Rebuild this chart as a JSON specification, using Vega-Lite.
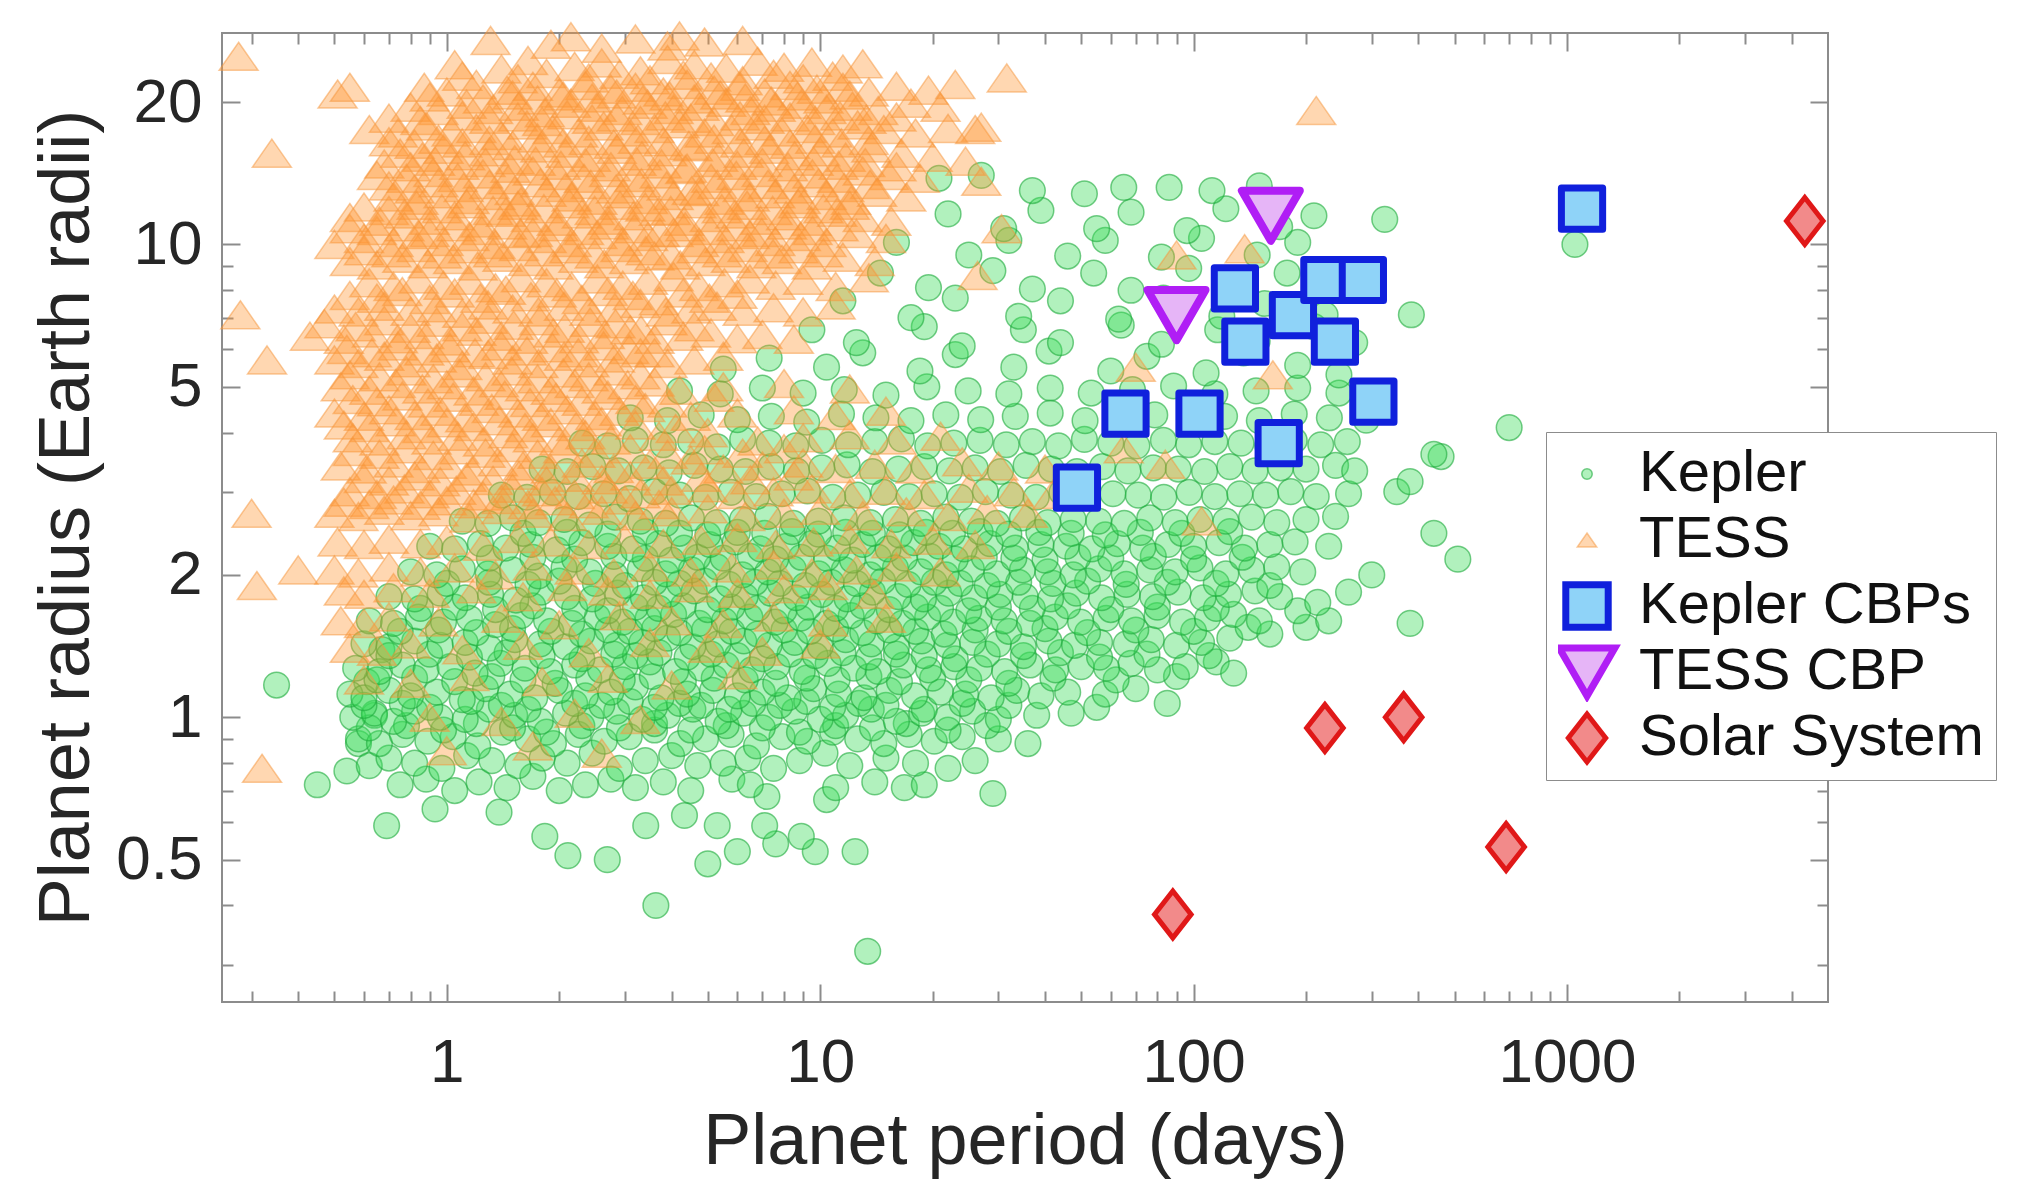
{
"$schema":"https://vega.github.io/schema/vega-lite/v6.json",
"width":1606,"height":969,
"autosize":{"type":"none"},
"padding":{"left":222,"top":33,"right":197,"bottom":196},
"background":"#ffffff",
"config":{
 "font":"Liberation Sans",
 "view":{"stroke":"#8c8c8c","strokeWidth":2},
 "axis":{"grid":false,"domain":false,"labelFont":"Liberation Sans","labelFontSize":62,"labelColor":"#262626","tickColor":"#8c8c8c","tickWidth":2,"titleFont":"Liberation Sans","titleFontSize":72,"titleFontWeight":"normal","titleColor":"#262626","labelOverlap":false,"labelFlush":false},
 "legend":{"labelFont":"Liberation Sans","labelFontSize":58,"labelColor":"#111111","strokeColor":"#8c8c8c","fillColor":"#ffffff","padding":12,"rowPadding":6,"clipHeight":60,"labelOffset":23,"labelLimit":0}
},
"datasets":{
"kepler":[
{"p":0.69,"r":0.59},{"p":0.93,"r":0.64},{"p":1.38,"r":0.63},{"p":1.83,"r":0.56},{"p":2.11,"r":0.51},{"p":2.69,"r":0.5},{"p":3.41,"r":0.59},{"p":4.33,"r":0.62},{"p":5,"r":0.49},{"p":6,"r":0.52},{"p":7.6,"r":0.54},{"p":9.7,"r":0.52},{"p":12.4,"r":0.52},{"p":3.63,"r":0.4},{"p":13.4,"r":0.32},{"p":5.3,"r":0.59},{"p":7.1,"r":0.59},{"p":8.9,"r":0.56},{"p":7.2,"r":0.68},{"p":10.4,"r":0.67},{"p":16.8,"r":0.71},{"p":29,"r":0.69},{"p":0.35,"r":1.17},{"p":0.45,"r":0.72},{"p":0.54,"r":0.77},{"p":0.58,"r":0.88},{"p":0.64,"r":1.01},{"p":0.61,"r":1.19},{"p":0.67,"r":1.39},
{"p":0.75,"r":0.72},{"p":0.88,"r":0.74},{"p":1.05,"r":0.7},{"p":1.22,"r":0.73},{"p":1.45,"r":0.71},{"p":1.7,"r":0.75},{"p":2,"r":0.7},{"p":2.35,"r":0.72},{"p":2.75,"r":0.74},{"p":3.2,"r":0.71},{"p":3.8,"r":0.73},{"p":4.5,"r":0.7},{"p":5.8,"r":0.74},{"p":6.5,"r":0.72},{"p":11,"r":0.71},{"p":14,"r":0.73},{"p":19,"r":0.72},
{"p":0.62,"r":0.79},{"p":0.7,"r":0.82},{"p":0.82,"r":0.8},{"p":0.97,"r":0.78},{"p":1.13,"r":0.83},{"p":1.32,"r":0.81},{"p":1.55,"r":0.79},{"p":1.8,"r":0.82},{"p":2.1,"r":0.8},{"p":2.45,"r":0.84},{"p":2.9,"r":0.78},{"p":3.4,"r":0.81},{"p":4,"r":0.83},{"p":4.7,"r":0.79},{"p":5.5,"r":0.8},{"p":6.4,"r":0.82},{"p":7.5,"r":0.78},{"p":8.8,"r":0.81},{"p":10.3,"r":0.84},{"p":12,"r":0.79},{"p":15,"r":0.82},{"p":18,"r":0.8},{"p":22,"r":0.78},{"p":26,"r":0.81},
{"p":0.58,"r":0.9},{"p":0.66,"r":0.88},{"p":0.76,"r":0.92},{"p":0.89,"r":0.89},{"p":1.04,"r":0.91},{"p":1.21,"r":0.87},{"p":1.41,"r":0.93},{"p":1.65,"r":0.9},{"p":1.93,"r":0.88},{"p":2.25,"r":0.92},{"p":2.64,"r":0.89},{"p":3.08,"r":0.91},{"p":3.6,"r":0.94},{"p":4.22,"r":0.88},{"p":4.93,"r":0.9},{"p":5.77,"r":0.92},{"p":6.75,"r":0.87},{"p":7.9,"r":0.91},{"p":9.24,"r":0.89},{"p":10.8,"r":0.93},{"p":12.6,"r":0.9},{"p":14.8,"r":0.88},{"p":17.3,"r":0.92},{"p":20.2,"r":0.89},{"p":24,"r":0.91},{"p":30,"r":0.9},{"p":36,"r":0.88},
{"p":0.62,"r":0.95},{"p":0.78,"r":0.96},{"p":0.98,"r":0.94},{"p":1.2,"r":0.97},{"p":1.5,"r":0.95},{"p":1.85,"r":0.93},{"p":2.3,"r":0.96},{"p":2.9,"r":0.95},{"p":3.6,"r":0.97},{"p":4.5,"r":0.94},{"p":5.6,"r":0.96},{"p":7,"r":0.95},{"p":8.8,"r":0.93},{"p":11,"r":0.96},{"p":13.8,"r":0.95},{"p":17,"r":0.97},{"p":22,"r":0.94},{"p":28,"r":0.96},
{"p":0.56,"r":1},{"p":0.64,"r":1.02},{"p":0.72,"r":0.98},{"p":0.82,"r":1.03},{"p":0.96,"r":1},{"p":1.12,"r":0.99},{"p":1.3,"r":1.04},{"p":1.52,"r":1.01},{"p":1.78,"r":0.98},{"p":2.08,"r":1.02},{"p":2.43,"r":1},{"p":2.85,"r":1.03},{"p":3.33,"r":0.99},{"p":3.9,"r":1.01},{"p":4.56,"r":1.04},{"p":5.33,"r":0.98},{"p":6.24,"r":1.02},{"p":7.3,"r":1},{"p":8.54,"r":1.03},{"p":10,"r":0.99},{"p":11.7,"r":1.01},{"p":13.7,"r":1.04},{"p":16,"r":0.98},{"p":18.7,"r":1.02},{"p":21.9,"r":1},{"p":25.6,"r":1.03},{"p":30,"r":0.99},{"p":38,"r":1.01},{"p":47,"r":1.02},{"p":85,"r":1.07},
{"p":0.6,"r":1.06},{"p":0.76,"r":1.07},{"p":0.9,"r":1.05},{"p":1.16,"r":1.08},{"p":1.4,"r":1.06},{"p":1.65,"r":1.04},{"p":2.2,"r":1.07},{"p":2.6,"r":1.06},{"p":3.1,"r":1.08},{"p":3.6,"r":1.05},{"p":4.2,"r":1.07},{"p":4.8,"r":1.06},{"p":5.7,"r":1.04},{"p":6.6,"r":1.07},{"p":7.8,"r":1.06},{"p":9.2,"r":1.08},{"p":10.8,"r":1.05},{"p":12.7,"r":1.07},{"p":15,"r":1.06},{"p":19,"r":1.04},{"p":24,"r":1.07},{"p":32,"r":1.06},{"p":55,"r":1.05},
{"p":0.55,"r":1.12},{"p":0.6,"r":1.1},{"p":0.7,"r":1.14},{"p":0.8,"r":1.11},{"p":0.94,"r":1.13},{"p":1.1,"r":1.09},{"p":1.27,"r":1.15},{"p":1.48,"r":1.12},{"p":1.72,"r":1.1},{"p":2,"r":1.14},{"p":2.35,"r":1.11},{"p":2.75,"r":1.13},{"p":3.2,"r":1.16},{"p":3.75,"r":1.1},{"p":4.4,"r":1.12},{"p":5.15,"r":1.14},{"p":6,"r":1.11},{"p":7,"r":1.13},{"p":8.2,"r":1.1},{"p":9.6,"r":1.15},{"p":11.2,"r":1.12},{"p":13.1,"r":1.1},{"p":15.3,"r":1.14},{"p":17.9,"r":1.11},{"p":21,"r":1.13},{"p":24.5,"r":1.12},{"p":28.7,"r":1.1},{"p":33.6,"r":1.14},{"p":39,"r":1.11},{"p":46,"r":1.13},{"p":58,"r":1.12},{"p":70,"r":1.15},
{"p":0.65,"r":1.2},{"p":0.82,"r":1.21},{"p":1.05,"r":1.19},{"p":1.32,"r":1.22},{"p":1.6,"r":1.2},{"p":1.95,"r":1.18},{"p":2.4,"r":1.21},{"p":2.95,"r":1.2},{"p":3.55,"r":1.22},{"p":4.3,"r":1.19},{"p":5.2,"r":1.21},{"p":6.3,"r":1.2},{"p":7.6,"r":1.18},{"p":9.2,"r":1.21},{"p":11.1,"r":1.2},{"p":13.5,"r":1.22},{"p":16.3,"r":1.19},{"p":20,"r":1.21},{"p":25,"r":1.2},{"p":32,"r":1.18},{"p":42,"r":1.21},{"p":62,"r":1.2},{"p":90,"r":1.22},
{"p":0.57,"r":1.27},{"p":0.66,"r":1.25},{"p":0.76,"r":1.29},{"p":0.88,"r":1.26},{"p":1.02,"r":1.28},{"p":1.19,"r":1.24},{"p":1.39,"r":1.3},{"p":1.62,"r":1.27},{"p":1.89,"r":1.25},{"p":2.2,"r":1.29},{"p":2.58,"r":1.26},{"p":3,"r":1.28},{"p":3.5,"r":1.31},{"p":4.1,"r":1.25},{"p":4.8,"r":1.27},{"p":5.6,"r":1.29},{"p":6.55,"r":1.26},{"p":7.65,"r":1.28},{"p":8.95,"r":1.25},{"p":10.5,"r":1.3},{"p":12.3,"r":1.27},{"p":14.3,"r":1.25},{"p":16.7,"r":1.29},{"p":19.5,"r":1.26},{"p":22.8,"r":1.28},{"p":26.7,"r":1.27},{"p":31.2,"r":1.25},{"p":36.5,"r":1.29},{"p":42.7,"r":1.26},{"p":50,"r":1.28},{"p":58.5,"r":1.27},{"p":68,"r":1.3},{"p":80,"r":1.26},{"p":95,"r":1.28},{"p":115,"r":1.31},{"p":128,"r":1.24},
{"p":0.7,"r":1.35},{"p":0.9,"r":1.36},{"p":1.15,"r":1.34},{"p":1.45,"r":1.37},{"p":1.8,"r":1.35},{"p":2.3,"r":1.33},{"p":2.8,"r":1.36},{"p":3.2,"r":1.35},{"p":3.7,"r":1.37},{"p":4.4,"r":1.34},{"p":5.1,"r":1.36},{"p":6,"r":1.35},{"p":7,"r":1.33},{"p":8.3,"r":1.36},{"p":9.7,"r":1.35},{"p":11.5,"r":1.37},{"p":13.5,"r":1.34},{"p":16,"r":1.36},{"p":19,"r":1.35},{"p":23,"r":1.33},{"p":28,"r":1.36},{"p":35,"r":1.35},{"p":44,"r":1.37},{"p":56,"r":1.34},{"p":75,"r":1.36},{"p":110,"r":1.35},
{"p":0.6,"r":1.43},{"p":0.7,"r":1.41},{"p":0.82,"r":1.45},{"p":0.96,"r":1.42},{"p":1.12,"r":1.44},{"p":1.3,"r":1.4},{"p":1.52,"r":1.46},{"p":1.78,"r":1.43},{"p":2.08,"r":1.41},{"p":2.43,"r":1.45},{"p":2.85,"r":1.42},{"p":3.33,"r":1.44},{"p":3.9,"r":1.47},{"p":4.56,"r":1.41},{"p":5.33,"r":1.43},{"p":6.24,"r":1.45},{"p":7.3,"r":1.42},{"p":8.54,"r":1.44},{"p":10,"r":1.41},{"p":11.7,"r":1.46},{"p":13.7,"r":1.43},{"p":16,"r":1.41},{"p":18.7,"r":1.45},{"p":21.9,"r":1.42},{"p":25.6,"r":1.44},{"p":30,"r":1.43},{"p":35,"r":1.41},{"p":41,"r":1.45},{"p":48,"r":1.42},{"p":56,"r":1.44},{"p":66,"r":1.43},{"p":77,"r":1.46},{"p":90,"r":1.42},{"p":105,"r":1.44},{"p":125,"r":1.47},{"p":140,"r":1.55},
{"p":0.75,"r":1.52},{"p":0.95,"r":1.53},{"p":1.2,"r":1.51},{"p":1.5,"r":1.54},{"p":1.9,"r":1.52},{"p":2.3,"r":1.5},{"p":2.7,"r":1.53},{"p":3.1,"r":1.52},{"p":3.6,"r":1.54},{"p":4.2,"r":1.51},{"p":4.9,"r":1.53},{"p":5.8,"r":1.52},{"p":6.8,"r":1.5},{"p":8,"r":1.53},{"p":9.4,"r":1.52},{"p":11,"r":1.54},{"p":13,"r":1.51},{"p":15.3,"r":1.53},{"p":18,"r":1.52},{"p":21.5,"r":1.5},{"p":26,"r":1.53},{"p":32,"r":1.52},{"p":40,"r":1.54},{"p":52,"r":1.51},{"p":70,"r":1.53},{"p":100,"r":1.52},{"p":160,"r":1.5},
{"p":0.62,"r":1.6},{"p":0.72,"r":1.58},{"p":0.84,"r":1.63},{"p":0.98,"r":1.59},{"p":1.15,"r":1.62},{"p":1.35,"r":1.57},{"p":1.58,"r":1.64},{"p":1.85,"r":1.6},{"p":2.16,"r":1.58},{"p":2.53,"r":1.63},{"p":2.96,"r":1.59},{"p":3.46,"r":1.62},{"p":4.05,"r":1.65},{"p":4.74,"r":1.58},{"p":5.54,"r":1.6},{"p":6.48,"r":1.63},{"p":7.58,"r":1.59},{"p":8.87,"r":1.62},{"p":10.4,"r":1.58},{"p":12.1,"r":1.64},{"p":14.2,"r":1.6},{"p":16.6,"r":1.58},{"p":19.4,"r":1.63},{"p":22.7,"r":1.59},{"p":26.6,"r":1.62},{"p":31.1,"r":1.6},{"p":36.4,"r":1.58},{"p":42.6,"r":1.63},{"p":49.8,"r":1.59},{"p":58.3,"r":1.62},{"p":68.2,"r":1.6},{"p":79.8,"r":1.64},{"p":93.4,"r":1.59},{"p":109,"r":1.62},{"p":128,"r":1.65},{"p":150,"r":1.6},{"p":200,"r":1.55},{"p":230,"r":1.6},{"p":380,"r":1.58},
{"p":0.85,"r":1.7},{"p":1.05,"r":1.71},{"p":1.35,"r":1.69},{"p":1.7,"r":1.72},{"p":2.2,"r":1.7},{"p":2.7,"r":1.68},{"p":3.2,"r":1.71},{"p":3.7,"r":1.7},{"p":4.3,"r":1.72},{"p":5,"r":1.69},{"p":5.8,"r":1.71},{"p":6.8,"r":1.7},{"p":8,"r":1.68},{"p":9.3,"r":1.71},{"p":11,"r":1.7},{"p":13,"r":1.72},{"p":15.3,"r":1.69},{"p":18,"r":1.71},{"p":21,"r":1.7},{"p":25,"r":1.68},{"p":30,"r":1.71},{"p":37,"r":1.7},{"p":46,"r":1.72},{"p":60,"r":1.69},{"p":80,"r":1.71},{"p":115,"r":1.7},{"p":190,"r":1.68},
{"p":0.7,"r":1.8},{"p":0.82,"r":1.78},{"p":0.96,"r":1.83},{"p":1.12,"r":1.79},{"p":1.31,"r":1.82},{"p":1.53,"r":1.77},{"p":1.79,"r":1.84},{"p":2.1,"r":1.8},{"p":2.45,"r":1.78},{"p":2.87,"r":1.83},{"p":3.36,"r":1.79},{"p":3.93,"r":1.82},{"p":4.6,"r":1.85},{"p":5.38,"r":1.78},{"p":6.3,"r":1.8},{"p":7.37,"r":1.83},{"p":8.62,"r":1.79},{"p":10.1,"r":1.82},{"p":11.8,"r":1.78},{"p":13.8,"r":1.84},{"p":16.2,"r":1.8},{"p":18.9,"r":1.78},{"p":22.1,"r":1.83},{"p":25.9,"r":1.79},{"p":30.3,"r":1.82},{"p":35.4,"r":1.8},{"p":41.4,"r":1.78},{"p":48.5,"r":1.83},{"p":56.7,"r":1.79},{"p":66.4,"r":1.82},{"p":77.7,"r":1.8},{"p":90.9,"r":1.84},{"p":106,"r":1.79},{"p":124,"r":1.82},{"p":146,"r":1.85},{"p":170,"r":1.8},{"p":215,"r":1.75},{"p":260,"r":1.84},
{"p":1,"r":1.92},{"p":1.3,"r":1.93},{"p":1.65,"r":1.91},{"p":2,"r":1.94},{"p":2.5,"r":1.92},{"p":3,"r":1.9},{"p":3.6,"r":1.93},{"p":4.2,"r":1.92},{"p":4.9,"r":1.94},{"p":5.7,"r":1.91},{"p":6.7,"r":1.93},{"p":7.8,"r":1.92},{"p":9.1,"r":1.9},{"p":10.7,"r":1.93},{"p":12.5,"r":1.92},{"p":14.7,"r":1.94},{"p":17.2,"r":1.91},{"p":20.2,"r":1.93},{"p":23.7,"r":1.92},{"p":28,"r":1.9},{"p":34,"r":1.93},{"p":42,"r":1.92},{"p":52,"r":1.94},{"p":66,"r":1.91},{"p":85,"r":1.93},{"p":115,"r":1.92},{"p":160,"r":1.9},
{"p":0.8,"r":2.03},{"p":0.94,"r":2},{"p":1.1,"r":2.06},{"p":1.29,"r":2.01},{"p":1.5,"r":2.05},{"p":1.76,"r":1.99},{"p":2.06,"r":2.07},{"p":2.41,"r":2.03},{"p":2.82,"r":2},{"p":3.3,"r":2.06},{"p":3.86,"r":2.01},{"p":4.52,"r":2.05},{"p":5.29,"r":2.08},{"p":6.19,"r":2},{"p":7.24,"r":2.03},{"p":8.47,"r":2.06},{"p":9.9,"r":2.01},{"p":11.6,"r":2.05},{"p":13.6,"r":2},{"p":15.9,"r":2.07},{"p":18.6,"r":2.03},{"p":21.7,"r":2},{"p":25.4,"r":2.06},{"p":29.7,"r":2.01},{"p":34.8,"r":2.05},{"p":40.7,"r":2.03},{"p":47.6,"r":2},{"p":55.7,"r":2.06},{"p":65.2,"r":2.01},{"p":76.3,"r":2.05},{"p":89.3,"r":2.03},{"p":104,"r":2.07},{"p":122,"r":2.01},{"p":143,"r":2.05},{"p":167,"r":2.08},{"p":196,"r":2.03},{"p":300,"r":2},{"p":510,"r":2.16},
{"p":1.3,"r":2.17},{"p":1.7,"r":2.18},{"p":2.2,"r":2.16},{"p":2.8,"r":2.19},{"p":3.4,"r":2.17},{"p":4,"r":2.15},{"p":4.7,"r":2.18},{"p":5.5,"r":2.17},{"p":6.5,"r":2.19},{"p":7.6,"r":2.16},{"p":8.9,"r":2.18},{"p":10.4,"r":2.17},{"p":12.2,"r":2.15},{"p":14.3,"r":2.18},{"p":16.8,"r":2.17},{"p":19.7,"r":2.19},{"p":23,"r":2.16},{"p":27.5,"r":2.18},{"p":33,"r":2.17},{"p":40,"r":2.15},{"p":49,"r":2.18},{"p":60,"r":2.17},{"p":78,"r":2.19},{"p":100,"r":2.16},{"p":135,"r":2.18},
{"p":0.9,"r":2.3},{"p":1.05,"r":2.27},{"p":1.23,"r":2.33},{"p":1.44,"r":2.28},{"p":1.68,"r":2.32},{"p":1.97,"r":2.26},{"p":2.3,"r":2.34},{"p":2.7,"r":2.3},{"p":3.16,"r":2.27},{"p":3.7,"r":2.33},{"p":4.32,"r":2.28},{"p":5.06,"r":2.32},{"p":5.92,"r":2.35},{"p":6.92,"r":2.27},{"p":8.1,"r":2.3},{"p":9.48,"r":2.33},{"p":11.1,"r":2.28},{"p":13,"r":2.32},{"p":15.2,"r":2.27},{"p":17.8,"r":2.34},{"p":20.8,"r":2.3},{"p":24.3,"r":2.27},{"p":28.5,"r":2.33},{"p":33.3,"r":2.28},{"p":39,"r":2.32},{"p":45.6,"r":2.3},{"p":53.4,"r":2.27},{"p":62.5,"r":2.33},{"p":73.1,"r":2.28},{"p":85.5,"r":2.32},{"p":100,"r":2.3},{"p":117,"r":2.34},{"p":137,"r":2.28},{"p":160,"r":2.32},{"p":187,"r":2.35},{"p":230,"r":2.3},{"p":440,"r":2.45},
{"p":1.6,"r":2.45},{"p":2.1,"r":2.46},{"p":2.7,"r":2.44},{"p":3.4,"r":2.47},{"p":4.2,"r":2.45},{"p":5,"r":2.43},{"p":6,"r":2.46},{"p":7.1,"r":2.45},{"p":8.4,"r":2.47},{"p":9.9,"r":2.44},{"p":11.7,"r":2.46},{"p":13.8,"r":2.45},{"p":16.3,"r":2.43},{"p":19.2,"r":2.46},{"p":22.6,"r":2.45},{"p":26.8,"r":2.47},{"p":32,"r":2.44},{"p":38.5,"r":2.46},{"p":47,"r":2.45},{"p":58,"r":2.43},{"p":72,"r":2.46},{"p":93,"r":2.45},{"p":125,"r":2.47},
{"p":1.1,"r":2.6},{"p":1.29,"r":2.57},{"p":1.5,"r":2.64},{"p":1.76,"r":2.58},{"p":2.06,"r":2.62},{"p":2.41,"r":2.55},{"p":2.82,"r":2.65},{"p":3.3,"r":2.6},{"p":3.86,"r":2.57},{"p":4.52,"r":2.64},{"p":5.29,"r":2.58},{"p":6.19,"r":2.62},{"p":7.24,"r":2.66},{"p":8.47,"r":2.57},{"p":9.9,"r":2.6},{"p":11.6,"r":2.64},{"p":13.6,"r":2.58},{"p":15.9,"r":2.62},{"p":18.6,"r":2.57},{"p":21.7,"r":2.65},{"p":25.4,"r":2.6},{"p":29.7,"r":2.57},{"p":34.8,"r":2.64},{"p":40.7,"r":2.58},{"p":47.6,"r":2.62},{"p":55.7,"r":2.6},{"p":65.2,"r":2.57},{"p":76.3,"r":2.64},{"p":89.3,"r":2.58},{"p":104,"r":2.62},{"p":122,"r":2.6},{"p":143,"r":2.65},{"p":167,"r":2.58},{"p":200,"r":2.62},{"p":240,"r":2.66},
{"p":1.4,"r":2.95},{"p":1.64,"r":2.92},{"p":1.92,"r":2.99},{"p":2.25,"r":2.93},{"p":2.63,"r":2.97},{"p":3.08,"r":2.9},{"p":3.6,"r":3},{"p":4.21,"r":2.95},{"p":4.93,"r":2.92},{"p":5.77,"r":2.99},{"p":6.75,"r":2.93},{"p":7.9,"r":2.97},{"p":9.24,"r":3.01},{"p":10.8,"r":2.92},{"p":12.6,"r":2.95},{"p":14.8,"r":2.99},{"p":17.3,"r":2.93},{"p":20.2,"r":2.97},{"p":23.7,"r":2.92},{"p":27.7,"r":3},{"p":32.4,"r":2.95},{"p":37.9,"r":2.92},{"p":44.4,"r":2.99},{"p":51.9,"r":2.93},{"p":60.8,"r":2.97},{"p":71.1,"r":2.95},{"p":83.2,"r":2.92},{"p":97.3,"r":2.99},{"p":114,"r":2.93},{"p":133,"r":2.97},{"p":156,"r":2.95},{"p":182,"r":3},{"p":213,"r":2.93},{"p":260,"r":2.97},{"p":350,"r":3},
{"p":1.8,"r":3.35},{"p":2.1,"r":3.31},{"p":2.46,"r":3.39},{"p":2.88,"r":3.32},{"p":3.37,"r":3.37},{"p":3.94,"r":3.29},{"p":4.61,"r":3.41},{"p":5.4,"r":3.35},{"p":6.31,"r":3.31},{"p":7.39,"r":3.39},{"p":8.64,"r":3.32},{"p":10.1,"r":3.37},{"p":11.8,"r":3.42},{"p":13.8,"r":3.31},{"p":16.2,"r":3.35},{"p":19,"r":3.39},{"p":22.2,"r":3.32},{"p":26,"r":3.37},{"p":30.4,"r":3.31},{"p":35.6,"r":3.41},{"p":41.6,"r":3.35},{"p":48.7,"r":3.31},{"p":57,"r":3.39},{"p":66.7,"r":3.32},{"p":78,"r":3.37},{"p":91,"r":3.35},{"p":107,"r":3.31},{"p":125,"r":3.39},{"p":146,"r":3.32},{"p":171,"r":3.37},{"p":200,"r":3.35},{"p":240,"r":3.41},{"p":270,"r":3.32},{"p":460,"r":3.56},
{"p":2.3,"r":3.8},{"p":2.7,"r":3.75},{"p":3.2,"r":3.85},{"p":3.8,"r":3.77},{"p":4.5,"r":3.83},{"p":5.3,"r":3.73},{"p":6.2,"r":3.87},{"p":7.3,"r":3.8},{"p":8.6,"r":3.75},{"p":10.1,"r":3.85},{"p":11.9,"r":3.77},{"p":14,"r":3.83},{"p":16.5,"r":3.88},{"p":19.4,"r":3.75},{"p":22.8,"r":3.8},{"p":26.8,"r":3.85},{"p":31.5,"r":3.77},{"p":37,"r":3.83},{"p":43.5,"r":3.75},{"p":51,"r":3.87},{"p":60,"r":3.8},{"p":70.5,"r":3.75},{"p":83,"r":3.85},{"p":97,"r":3.77},{"p":114,"r":3.83},{"p":134,"r":3.8},{"p":158,"r":3.75},{"p":186,"r":3.85},{"p":219,"r":3.77},{"p":258,"r":3.83},{"p":380,"r":3.15},{"p":440,"r":3.6},
{"p":3.1,"r":4.3},{"p":3.9,"r":4.24},{"p":4.8,"r":4.36},{"p":6,"r":4.26},{"p":7.4,"r":4.33},{"p":9.2,"r":4.21},{"p":11.4,"r":4.38},{"p":14.1,"r":4.3},{"p":17.5,"r":4.24},{"p":21.7,"r":4.36},{"p":26.9,"r":4.26},{"p":33.3,"r":4.33},{"p":41.3,"r":4.4},{"p":51.2,"r":4.24},{"p":63.5,"r":4.3},{"p":78.7,"r":4.36},{"p":97.6,"r":4.26},{"p":121,"r":4.33},{"p":150,"r":4.24},{"p":186,"r":4.38},{"p":231,"r":4.3},{"p":290,"r":4.25},{"p":700,"r":4.1},
{"p":4.2,"r":4.9},{"p":5.4,"r":4.83},{"p":7,"r":4.97},{"p":9,"r":4.85},{"p":11.6,"r":4.93},{"p":15,"r":4.8},{"p":19.3,"r":5},{"p":24.9,"r":4.9},{"p":32,"r":4.83},{"p":41.3,"r":4.97},{"p":53.2,"r":4.85},{"p":68.6,"r":4.93},{"p":88.4,"r":5.02},{"p":114,"r":4.83},{"p":147,"r":4.9},{"p":190,"r":4.97},{"p":245,"r":4.85},
{"p":5.5,"r":5.45},{"p":7.3,"r":5.75},{"p":10.4,"r":5.5},{"p":13,"r":5.9},{"p":18.5,"r":5.4},{"p":23,"r":5.85},{"p":33,"r":5.5},{"p":41,"r":5.95},{"p":60,"r":5.4},{"p":75,"r":5.8},{"p":108,"r":5.35},{"p":136,"r":5.9},{"p":190,"r":5.55},{"p":245,"r":5.3},
{"p":9.5,"r":6.6},{"p":12.5,"r":6.2},{"p":19,"r":6.7},{"p":24,"r":6.1},{"p":35,"r":6.6},{"p":44,"r":6.2},{"p":64,"r":6.75},{"p":82,"r":6.15},{"p":116,"r":6.6},{"p":148,"r":6.25},{"p":210,"r":6.7},{"p":270,"r":6.2},
{"p":11.5,"r":7.6},{"p":17.5,"r":7},{"p":23,"r":7.7},{"p":34,"r":7.05},{"p":44,"r":7.6},{"p":63,"r":6.95},{"p":83,"r":7.7},{"p":119,"r":7.05},{"p":155,"r":7.5},{"p":225,"r":7.1},
{"p":14.5,"r":8.7},{"p":19.5,"r":8.1},{"p":29,"r":8.8},{"p":37,"r":8.05},{"p":54,"r":8.7},{"p":68,"r":8},{"p":97,"r":8.9},{"p":127,"r":8.2},{"p":178,"r":8.7},{"p":236,"r":8.1},{"p":383,"r":7.1},
{"p":16,"r":10.1},{"p":25,"r":9.5},{"p":32,"r":10.2},{"p":46,"r":9.45},{"p":58,"r":10.2},{"p":82,"r":9.4},{"p":105,"r":10.3},{"p":148,"r":9.5},{"p":190,"r":10.1},{"p":1050,"r":10},
{"p":22,"r":11.6},{"p":31,"r":10.8},{"p":39,"r":11.8},{"p":55,"r":10.8},{"p":68,"r":11.7},{"p":96,"r":10.7},{"p":122,"r":11.9},{"p":170,"r":10.9},{"p":210,"r":11.5},{"p":325,"r":11.3},
{"p":20.8,"r":13.8},{"p":27,"r":14},{"p":37,"r":13},{"p":51,"r":12.8},{"p":65,"r":13.2},{"p":86,"r":13.2},{"p":112,"r":13},{"p":150,"r":13.3}
],
"tess":[
{"p":1.31,"r":27},{"p":1.9,"r":26.5},{"p":2.15,"r":27.5},{"p":2.6,"r":26},{"p":3.2,"r":27.2},{"p":3.9,"r":26.3},{"p":4.2,"r":27.6},{"p":4.9,"r":26.8},{"p":6.2,"r":27},{"p":0.277,"r":25},
{"p":1.05,"r":24},{"p":1.4,"r":23.5},{"p":1.65,"r":24.5},{"p":2.2,"r":23.8},{"p":2.6,"r":24.2},{"p":3.3,"r":23.3},{"p":3.9,"r":24.6},{"p":4.6,"r":24},{"p":5.6,"r":23.6},{"p":6.8,"r":24.4},{"p":8,"r":23.7},{"p":9.5,"r":24.3},{"p":11.5,"r":23.5},{"p":13,"r":24.1},
{"p":1.1,"r":22.7},{"p":1.55,"r":22.4},{"p":1.85,"r":23},{"p":2.4,"r":22.5},{"p":2.9,"r":22.9},{"p":3.5,"r":22.3},{"p":4.3,"r":22.8},{"p":5.1,"r":22.6},{"p":6.2,"r":22.2},{"p":7.5,"r":22.9},{"p":9,"r":22.4},{"p":10.8,"r":22.7},
{"p":0.51,"r":20.8},{"p":0.55,"r":21.5},{"p":0.87,"r":21.5},{"p":1,"r":21},{"p":1.2,"r":21.8},{"p":1.45,"r":21.2},{"p":1.7,"r":21.6},{"p":2,"r":20.9},{"p":2.35,"r":21.7},{"p":2.75,"r":21.3},{"p":3.2,"r":21.5},{"p":3.8,"r":21},{"p":4.4,"r":21.8},{"p":5.2,"r":21.2},{"p":6.1,"r":21.6},{"p":7.1,"r":20.9},{"p":8.3,"r":21.7},{"p":9.8,"r":21.3},{"p":11.5,"r":21.5},{"p":13.5,"r":21},{"p":16,"r":21.6},{"p":19.5,"r":21.2},{"p":23,"r":21.8},{"p":31.6,"r":22.5},
{"p":0.9,"r":20.5},{"p":1.25,"r":20.3},{"p":1.5,"r":20.7},{"p":1.75,"r":20.2},{"p":2.05,"r":20.6},{"p":2.45,"r":20.4},{"p":2.85,"r":20.8},{"p":3.35,"r":20.2},{"p":3.95,"r":20.6},{"p":4.6,"r":20.3},{"p":5.4,"r":20.7},{"p":6.3,"r":20.4},{"p":7.4,"r":20.1},{"p":8.7,"r":20.6},{"p":10.2,"r":20.3},{"p":12,"r":20.7},
{"p":0.8,"r":19.5},{"p":0.95,"r":19.2},{"p":1.13,"r":19.8},{"p":1.33,"r":19.3},{"p":1.56,"r":19.6},{"p":1.83,"r":19},{"p":2.15,"r":19.9},{"p":2.52,"r":19.5},{"p":2.95,"r":19.2},{"p":3.45,"r":19.8},{"p":4.05,"r":19.3},{"p":4.75,"r":19.6},{"p":5.6,"r":20},{"p":6.5,"r":19.2},{"p":7.6,"r":19.5},{"p":8.9,"r":19.8},{"p":10.4,"r":19.3},{"p":12.2,"r":19.6},{"p":14.3,"r":19.2},{"p":17.5,"r":19.9},{"p":21,"r":19.5},{"p":26,"r":17.5},{"p":213,"r":19.2},{"p":27,"r":17.7},
{"p":0.7,"r":18.5},{"p":0.85,"r":18.3},{"p":1.1,"r":18.7},{"p":1.3,"r":18.4},{"p":1.55,"r":18.6},{"p":1.8,"r":18.2},{"p":2.1,"r":18.8},{"p":2.45,"r":18.4},{"p":2.85,"r":18.6},{"p":3.3,"r":18.3},{"p":3.85,"r":18.7},{"p":4.5,"r":18.5},{"p":5.2,"r":18.2},{"p":6.1,"r":18.7},{"p":7.1,"r":18.4},{"p":8.3,"r":18.6},{"p":9.7,"r":18.3},{"p":11.3,"r":18.7},{"p":13.3,"r":18.4},{"p":16,"r":18.6},
{"p":0.62,"r":17.5},{"p":0.74,"r":17.2},{"p":0.88,"r":17.8},{"p":1.03,"r":17.3},{"p":1.2,"r":17.6},{"p":1.4,"r":17},{"p":1.64,"r":17.9},{"p":1.92,"r":17.5},{"p":2.25,"r":17.2},{"p":2.63,"r":17.8},{"p":3.08,"r":17.3},{"p":3.6,"r":17.6},{"p":4.2,"r":18},{"p":4.9,"r":17.2},{"p":5.8,"r":17.5},{"p":6.7,"r":17.8},{"p":7.9,"r":17.3},{"p":9.2,"r":17.6},{"p":10.8,"r":17.2},{"p":12.6,"r":17.9},{"p":14.8,"r":17.5},{"p":18,"r":17.2},{"p":22,"r":17.6},
{"p":0.7,"r":16.5},{"p":0.82,"r":16.3},{"p":0.95,"r":16.7},{"p":1.1,"r":16.4},{"p":1.3,"r":16.6},{"p":1.5,"r":16.2},{"p":1.75,"r":16.8},{"p":2.05,"r":16.4},{"p":2.4,"r":16.6},{"p":2.8,"r":16.3},{"p":3.25,"r":16.7},{"p":3.8,"r":16.5},{"p":4.45,"r":16.2},{"p":5.2,"r":16.7},{"p":6.1,"r":16.4},{"p":7.1,"r":16.6},{"p":8.3,"r":16.3},{"p":9.7,"r":16.7},{"p":11.4,"r":16.4},{"p":13.5,"r":16.6},
{"p":0.34,"r":15.6},{"p":0.75,"r":15.6},{"p":0.86,"r":15.3},{"p":0.98,"r":15.9},{"p":1.12,"r":15.4},{"p":1.3,"r":15.7},{"p":1.52,"r":15.1},{"p":1.78,"r":16},{"p":2.08,"r":15.6},{"p":2.43,"r":15.3},{"p":2.85,"r":15.9},{"p":3.33,"r":15.4},{"p":3.9,"r":15.7},{"p":4.56,"r":16.1},{"p":5.33,"r":15.3},{"p":6.24,"r":15.6},{"p":7.3,"r":15.9},{"p":8.54,"r":15.4},{"p":10,"r":15.7},{"p":11.7,"r":15.3},{"p":13.7,"r":16},{"p":16.5,"r":15.6},{"p":20,"r":15.3},{"p":24.5,"r":15},
{"p":0.68,"r":14.8},{"p":0.8,"r":14.6},{"p":0.93,"r":15},{"p":1.08,"r":14.7},{"p":1.27,"r":14.9},{"p":1.48,"r":14.5},{"p":1.73,"r":15},{"p":2.02,"r":14.7},{"p":2.35,"r":14.9},{"p":2.75,"r":14.6},{"p":3.22,"r":15},{"p":3.76,"r":14.8},{"p":4.4,"r":14.5},{"p":5.15,"r":14.9},{"p":6,"r":14.7},{"p":7,"r":14.9},{"p":8.2,"r":14.6},{"p":9.6,"r":15},{"p":11.2,"r":14.7},{"p":13.2,"r":14.9},{"p":16,"r":14.6},
{"p":0.65,"r":14},{"p":0.78,"r":13.8},{"p":0.92,"r":14.2},{"p":1.07,"r":13.85},{"p":1.25,"r":14.1},{"p":1.46,"r":13.7},{"p":1.7,"r":14.3},{"p":1.99,"r":14},{"p":2.33,"r":13.8},{"p":2.72,"r":14.2},{"p":3.18,"r":13.85},{"p":3.72,"r":14.1},{"p":4.35,"r":14.4},{"p":5.1,"r":13.8},{"p":5.96,"r":14},{"p":6.97,"r":14.2},{"p":8.15,"r":13.85},{"p":9.53,"r":14.1},{"p":11.1,"r":13.8},{"p":13,"r":14.3},{"p":15.3,"r":14},{"p":18.5,"r":13.8},{"p":27,"r":13.6},
{"p":0.7,"r":13.3},{"p":0.82,"r":13.1},{"p":0.95,"r":13.5},{"p":1.11,"r":13.2},{"p":1.3,"r":13.4},{"p":1.52,"r":13},{"p":1.78,"r":13.5},{"p":2.08,"r":13.2},{"p":2.43,"r":13.4},{"p":2.84,"r":13.1},{"p":3.32,"r":13.5},{"p":3.88,"r":13.3},{"p":4.53,"r":13},{"p":5.3,"r":13.4},{"p":6.2,"r":13.2},{"p":7.25,"r":13.4},{"p":8.5,"r":13.1},{"p":9.9,"r":13.5},{"p":11.6,"r":13.2},{"p":13.6,"r":13.4},
{"p":0.72,"r":12.6},{"p":0.84,"r":12.4},{"p":0.98,"r":12.8},{"p":1.15,"r":12.45},{"p":1.35,"r":12.7},{"p":1.58,"r":12.3},{"p":1.85,"r":12.9},{"p":2.16,"r":12.6},{"p":2.53,"r":12.4},{"p":2.96,"r":12.8},{"p":3.46,"r":12.45},{"p":4.05,"r":12.7},{"p":4.74,"r":12.95},{"p":5.54,"r":12.4},{"p":6.48,"r":12.6},{"p":7.58,"r":12.8},{"p":8.87,"r":12.45},{"p":10.4,"r":12.7},{"p":12.1,"r":12.4},{"p":14.2,"r":12.9},{"p":17,"r":12.6},
{"p":0.6,"r":12},{"p":0.7,"r":11.8},{"p":0.83,"r":12.1},{"p":0.97,"r":11.9},{"p":1.13,"r":12.2},{"p":1.33,"r":11.8},{"p":1.55,"r":12.1},{"p":1.82,"r":11.9},{"p":2.13,"r":12.2},{"p":2.49,"r":11.8},{"p":2.91,"r":12.1},{"p":3.4,"r":12},{"p":3.98,"r":11.8},{"p":4.66,"r":12.2},{"p":5.45,"r":11.9},{"p":6.37,"r":12.1},{"p":7.46,"r":11.8},{"p":8.73,"r":12.2},{"p":10.2,"r":11.9},{"p":12,"r":12.1},
{"p":0.55,"r":11.4},{"p":0.66,"r":11.2},{"p":0.77,"r":11.6},{"p":0.9,"r":11.25},{"p":1.05,"r":11.5},{"p":1.23,"r":11.1},{"p":1.44,"r":11.7},{"p":1.68,"r":11.4},{"p":1.97,"r":11.2},{"p":2.3,"r":11.6},{"p":2.7,"r":11.25},{"p":3.16,"r":11.5},{"p":3.7,"r":11.75},{"p":4.32,"r":11.2},{"p":5.06,"r":11.4},{"p":5.92,"r":11.6},{"p":6.92,"r":11.25},{"p":8.1,"r":11.5},{"p":9.48,"r":11.2},{"p":11.1,"r":11.7},{"p":13,"r":11.4},{"p":15.5,"r":11.2},{"p":30.6,"r":10.8},
{"p":0.55,"r":10.8},{"p":0.65,"r":10.7},{"p":0.77,"r":10.9},{"p":0.9,"r":10.6},{"p":1.06,"r":10.9},{"p":1.24,"r":10.7},{"p":1.45,"r":11},{"p":1.7,"r":10.6},{"p":1.99,"r":10.9},{"p":2.33,"r":10.7},{"p":2.72,"r":11},{"p":3.18,"r":10.8},{"p":3.72,"r":10.6},{"p":4.35,"r":10.9},{"p":5.09,"r":10.7},{"p":5.96,"r":10.9},{"p":6.97,"r":10.6},{"p":8.15,"r":11},{"p":9.54,"r":10.7},{"p":11.2,"r":10.9},
{"p":0.5,"r":10},{"p":0.6,"r":10.3},{"p":0.72,"r":10.1},{"p":0.84,"r":10.5},{"p":0.98,"r":10.15},{"p":1.15,"r":10.4},{"p":1.35,"r":10},{"p":1.58,"r":10.55},{"p":1.85,"r":10.3},{"p":2.16,"r":10.1},{"p":2.53,"r":10.5},{"p":2.96,"r":10.15},{"p":3.46,"r":10.4},{"p":4.05,"r":10.6},{"p":4.74,"r":10.1},{"p":5.54,"r":10.3},{"p":6.48,"r":10.5},{"p":7.58,"r":10.15},{"p":8.87,"r":10.4},{"p":10.4,"r":10.1},{"p":12.5,"r":10.55},{"p":15,"r":10.3},
{"p":0.6,"r":9.7},{"p":0.71,"r":9.6},{"p":0.83,"r":9.85},{"p":0.97,"r":9.55},{"p":1.14,"r":9.8},{"p":1.33,"r":9.6},{"p":1.56,"r":9.9},{"p":1.82,"r":9.65},{"p":2.13,"r":9.8},{"p":2.49,"r":9.55},{"p":2.92,"r":9.85},{"p":3.41,"r":9.7},{"p":3.99,"r":9.5},{"p":4.67,"r":9.8},{"p":5.46,"r":9.6},{"p":6.39,"r":9.85},{"p":7.48,"r":9.55},{"p":8.75,"r":9.8},{"p":10.2,"r":9.6},
{"p":0.55,"r":9.2},{"p":0.65,"r":9.05},{"p":0.76,"r":9.35},{"p":0.89,"r":9.1},{"p":1.04,"r":9.3},{"p":1.21,"r":9},{"p":1.41,"r":9.4},{"p":1.65,"r":9.2},{"p":1.93,"r":9.05},{"p":2.25,"r":9.35},{"p":2.64,"r":9.1},{"p":3.08,"r":9.3},{"p":3.6,"r":9.45},{"p":4.22,"r":9.05},{"p":4.93,"r":9.2},{"p":5.77,"r":9.35},{"p":6.75,"r":9.1},{"p":7.9,"r":9.3},{"p":9.5,"r":9.05},{"p":11.5,"r":9.4},{"p":14,"r":9.2},{"p":26.4,"r":8.6},{"p":90,"r":9.5},{"p":137,"r":9.8},
{"p":0.62,"r":8.3},{"p":0.72,"r":8.15},{"p":0.84,"r":8.45},{"p":0.98,"r":8.2},{"p":1.15,"r":8.4},{"p":1.35,"r":8.1},{"p":1.58,"r":8.5},{"p":1.85,"r":8.3},{"p":2.16,"r":8.15},{"p":2.53,"r":8.45},{"p":2.96,"r":8.2},{"p":3.46,"r":8.4},{"p":4.05,"r":8.55},{"p":4.74,"r":8.15},{"p":5.54,"r":8.3},{"p":6.48,"r":8.45},{"p":7.6,"r":8.2},{"p":9,"r":8.4},{"p":11,"r":8.15},{"p":13.5,"r":8.5},
{"p":0.55,"r":7.8},{"p":0.65,"r":7.7},{"p":0.76,"r":7.95},{"p":0.9,"r":7.65},{"p":1.05,"r":7.9},{"p":1.23,"r":7.7},{"p":1.44,"r":8},{"p":1.68,"r":7.75},{"p":1.97,"r":7.9},{"p":2.3,"r":7.65},{"p":2.7,"r":7.95},{"p":3.15,"r":7.8},{"p":3.7,"r":7.6},{"p":4.3,"r":7.9},{"p":5.05,"r":7.7},{"p":6,"r":7.85},
{"p":0.28,"r":7.1},{"p":0.5,"r":7.3},{"p":0.58,"r":7.2},{"p":0.68,"r":7.4},{"p":0.8,"r":7.22},{"p":0.94,"r":7.35},{"p":1.1,"r":7.15},{"p":1.29,"r":7.45},{"p":1.5,"r":7.3},{"p":1.76,"r":7.2},{"p":2.06,"r":7.4},{"p":2.41,"r":7.22},{"p":2.82,"r":7.35},{"p":3.3,"r":7.5},{"p":3.86,"r":7.2},{"p":4.52,"r":7.3},{"p":5.29,"r":7.4},{"p":6.2,"r":7.22},{"p":7.5,"r":7.35},{"p":9,"r":7.2},{"p":11,"r":7.45},
{"p":0.47,"r":6.8},{"p":0.57,"r":6.7},{"p":0.68,"r":6.9},{"p":0.8,"r":6.65},{"p":0.94,"r":6.85},{"p":1.1,"r":6.7},{"p":1.29,"r":6.95},{"p":1.51,"r":6.75},{"p":1.77,"r":6.9},{"p":2.07,"r":6.65},{"p":2.42,"r":6.85},{"p":2.83,"r":6.8},{"p":3.31,"r":6.6},{"p":3.9,"r":6.9},{"p":4.6,"r":6.7},
{"p":0.43,"r":6.4},{"p":0.53,"r":6.3},{"p":0.63,"r":6.5},{"p":0.74,"r":6.32},{"p":0.87,"r":6.45},{"p":1.02,"r":6.25},{"p":1.2,"r":6.55},{"p":1.4,"r":6.4},{"p":1.65,"r":6.3},{"p":1.93,"r":6.5},{"p":2.26,"r":6.32},{"p":2.65,"r":6.45},{"p":3.1,"r":6.6},{"p":3.6,"r":6.3},{"p":4.3,"r":6.4},{"p":5.1,"r":6.5},{"p":6,"r":6.32},{"p":7,"r":6.45},{"p":8.5,"r":6.3},
{"p":0.54,"r":6},{"p":0.63,"r":5.9},{"p":0.74,"r":6.1},{"p":0.87,"r":5.95},{"p":1.02,"r":6.05},{"p":1.19,"r":5.9},{"p":1.4,"r":6.1},{"p":1.64,"r":5.95},{"p":1.92,"r":6.05},{"p":2.25,"r":5.9},{"p":2.63,"r":6.1},{"p":3.08,"r":6},{"p":3.6,"r":5.9},
{"p":0.33,"r":5.7},{"p":0.5,"r":5.7},{"p":0.58,"r":5.6},{"p":0.68,"r":5.8},{"p":0.8,"r":5.62},{"p":0.94,"r":5.75},{"p":1.1,"r":5.55},{"p":1.29,"r":5.85},{"p":1.5,"r":5.7},{"p":1.76,"r":5.6},{"p":2.06,"r":5.8},{"p":2.41,"r":5.62},{"p":2.82,"r":5.75},{"p":3.3,"r":5.9},{"p":3.9,"r":5.6},{"p":4.6,"r":5.7},{"p":5.5,"r":5.8},{"p":70,"r":5.5},
{"p":0.55,"r":5.3},{"p":0.66,"r":5.25},{"p":0.78,"r":5.4},{"p":0.92,"r":5.2},{"p":1.08,"r":5.35},{"p":1.27,"r":5.25},{"p":1.49,"r":5.4},{"p":1.75,"r":5.2},{"p":2.05,"r":5.35},{"p":2.4,"r":5.25},{"p":2.8,"r":5.4},{"p":3.3,"r":5.3},
{"p":0.52,"r":5},{"p":0.62,"r":4.92},{"p":0.73,"r":5.08},{"p":0.86,"r":4.95},{"p":1,"r":5.05},{"p":1.18,"r":4.9},{"p":1.38,"r":5.1},{"p":1.62,"r":5},{"p":1.9,"r":4.92},{"p":2.2,"r":5.08},{"p":2.6,"r":4.95},{"p":3.05,"r":5.05},{"p":3.6,"r":5.12},{"p":4.2,"r":4.92},{"p":5.5,"r":5},{"p":8,"r":5.08},{"p":12,"r":4.95},{"p":163,"r":5.3},
{"p":0.56,"r":4.7},{"p":0.65,"r":4.65},{"p":0.76,"r":4.78},{"p":0.89,"r":4.62},{"p":1.04,"r":4.75},{"p":1.22,"r":4.66},{"p":1.43,"r":4.8},{"p":1.67,"r":4.63},{"p":1.96,"r":4.75},{"p":2.3,"r":4.66},{"p":2.7,"r":4.8},{"p":3.2,"r":4.7},{"p":3.9,"r":4.62},{"p":5.2,"r":4.75},
{"p":0.5,"r":4.4},{"p":0.6,"r":4.33},{"p":0.7,"r":4.47},{"p":0.82,"r":4.35},{"p":0.96,"r":4.44},{"p":1.12,"r":4.3},{"p":1.32,"r":4.5},{"p":1.55,"r":4.4},{"p":1.8,"r":4.33},{"p":2.1,"r":4.47},{"p":2.5,"r":4.35},{"p":2.9,"r":4.44},{"p":3.4,"r":4.52},{"p":4.5,"r":4.33},{"p":6,"r":4.4},{"p":8.5,"r":4.47},{"p":11,"r":4.35},{"p":15,"r":4.44},
{"p":0.53,"r":4.15},{"p":0.62,"r":4.1},{"p":0.73,"r":4.22},{"p":0.86,"r":4.08},{"p":1,"r":4.2},{"p":1.18,"r":4.12},{"p":1.38,"r":4.24},{"p":1.62,"r":4.1},{"p":1.9,"r":4.2},{"p":2.22,"r":4.12},{"p":2.6,"r":4.22},{"p":3.2,"r":4.15},{"p":4.1,"r":4.08},
{"p":0.56,"r":3.9},{"p":0.66,"r":3.84},{"p":0.78,"r":3.96},{"p":0.91,"r":3.86},{"p":1.07,"r":3.93},{"p":1.25,"r":3.82},{"p":1.46,"r":3.98},{"p":1.7,"r":3.9},{"p":2,"r":3.84},{"p":2.35,"r":3.96},{"p":2.75,"r":3.86},{"p":3.7,"r":3.93},{"p":5,"r":4},{"p":6.8,"r":3.84},{"p":9,"r":3.9},{"p":12,"r":3.96},{"p":16,"r":3.86},{"p":21,"r":3.93},{"p":65,"r":3.7},
{"p":0.56,"r":3.65},{"p":0.66,"r":3.6},{"p":0.78,"r":3.7},{"p":0.92,"r":3.58},{"p":1.08,"r":3.68},{"p":1.27,"r":3.62},{"p":1.5,"r":3.72},{"p":1.75,"r":3.6},{"p":2.05,"r":3.7},{"p":2.5,"r":3.62},{"p":3.1,"r":3.7},{"p":3.9,"r":3.6},{"p":4.9,"r":3.68},{"p":6.2,"r":3.62},{"p":8,"r":3.7},
{"p":0.52,"r":3.4},{"p":0.61,"r":3.35},{"p":0.72,"r":3.45},{"p":0.85,"r":3.36},{"p":1,"r":3.43},{"p":1.17,"r":3.32},{"p":1.37,"r":3.47},{"p":1.6,"r":3.4},{"p":1.9,"r":3.35},{"p":2.3,"r":3.45},{"p":2.8,"r":3.36},{"p":3.5,"r":3.43},{"p":4.5,"r":3.5},{"p":5.5,"r":3.35},{"p":7,"r":3.4},{"p":9,"r":3.45},{"p":11,"r":3.36},{"p":14,"r":3.43},{"p":18,"r":3.35},{"p":24,"r":3.47},{"p":30,"r":3.4},{"p":40,"r":3.35},{"p":84,"r":3.43},
{"p":0.6,"r":3.2},{"p":0.7,"r":3.16},{"p":0.82,"r":3.24},{"p":0.96,"r":3.15},{"p":1.13,"r":3.22},{"p":1.33,"r":3.17},{"p":1.56,"r":3.25},{"p":1.85,"r":3.16},{"p":2.2,"r":3.22},{"p":2.6,"r":3.18},{"p":3.1,"r":3.24},{"p":3.8,"r":3.16},{"p":4.8,"r":3.22},{"p":6.5,"r":3.18},{"p":8.5,"r":3.24},
{"p":0.55,"r":3},{"p":0.65,"r":2.96},{"p":0.77,"r":3.04},{"p":0.9,"r":2.97},{"p":1.06,"r":3.02},{"p":1.25,"r":2.94},{"p":1.5,"r":3.05},{"p":1.8,"r":3},{"p":2.2,"r":2.96},{"p":2.7,"r":3.04},{"p":3.3,"r":2.97},{"p":4,"r":3.02},{"p":5,"r":3.06},{"p":6,"r":2.96},{"p":7.5,"r":3},{"p":9.5,"r":3.04},{"p":12,"r":2.97},{"p":15,"r":3.02},{"p":19,"r":2.96},{"p":25,"r":3.05},{"p":33,"r":3},{"p":42,"r":2.96},
{"p":0.53,"r":2.85},{"p":0.62,"r":2.82},{"p":0.72,"r":2.88},{"p":0.85,"r":2.81},{"p":1,"r":2.87},{"p":1.18,"r":2.83},{"p":1.4,"r":2.89},{"p":1.65,"r":2.82},{"p":1.95,"r":2.87},{"p":2.4,"r":2.83},{"p":3,"r":2.88},{"p":3.7,"r":2.82},
{"p":0.3,"r":2.7},{"p":0.5,"r":2.7},{"p":0.58,"r":2.66},{"p":0.68,"r":2.74},{"p":0.8,"r":2.67},{"p":0.95,"r":2.72},{"p":1.15,"r":2.64},{"p":1.4,"r":2.75},{"p":1.7,"r":2.7},{"p":2.1,"r":2.66},{"p":2.6,"r":2.74},{"p":3.2,"r":2.67},{"p":4,"r":2.72},{"p":5,"r":2.76},{"p":6.3,"r":2.66},{"p":8,"r":2.7},{"p":10,"r":2.74},{"p":13,"r":2.67},{"p":17,"r":2.72},{"p":22,"r":2.66},{"p":28,"r":2.75},{"p":36,"r":2.7},{"p":105,"r":2.6},
{"p":0.51,"r":2.35},{"p":0.6,"r":2.32},{"p":0.7,"r":2.38},{"p":0.85,"r":2.33},{"p":1,"r":2.37},{"p":1.25,"r":2.3},{"p":1.55,"r":2.39},{"p":1.9,"r":2.35},{"p":2.4,"r":2.32},{"p":3,"r":2.38},{"p":3.8,"r":2.33},{"p":4.8,"r":2.37},{"p":6,"r":2.4},{"p":7.6,"r":2.32},{"p":9.6,"r":2.35},{"p":12,"r":2.38},{"p":15.5,"r":2.33},{"p":20,"r":2.37},{"p":26,"r":2.32},
{"p":0.4,"r":2.05},{"p":0.5,"r":2.05},{"p":0.58,"r":2.02},{"p":0.7,"r":2.08},{"p":0.85,"r":2.03},{"p":1.05,"r":2.07},{"p":1.35,"r":2},{"p":1.7,"r":2.09},{"p":2.2,"r":2.05},{"p":2.8,"r":2.02},{"p":3.5,"r":2.08},{"p":4.5,"r":2.03},{"p":5.8,"r":2.07},{"p":7.5,"r":2.1},{"p":9.5,"r":2.02},{"p":12.5,"r":2.05},{"p":16,"r":2.08},{"p":21,"r":2.03},
{"p":0.31,"r":1.9},{"p":0.53,"r":1.85},{"p":0.6,"r":1.82},{"p":0.72,"r":1.88},{"p":0.9,"r":1.83},{"p":1.2,"r":1.87},{"p":1.6,"r":1.8},{"p":2.1,"r":1.89},{"p":2.7,"r":1.85},{"p":3.5,"r":1.82},{"p":4.6,"r":1.88},{"p":6,"r":1.83},{"p":8,"r":1.87},{"p":10.5,"r":1.9},{"p":14,"r":1.82},
{"p":0.52,"r":1.6},{"p":0.6,"r":1.58},{"p":0.7,"r":1.63},{"p":0.95,"r":1.59},{"p":1.4,"r":1.62},{"p":2,"r":1.57},{"p":2.9,"r":1.64},{"p":4,"r":1.6},{"p":5.5,"r":1.58},{"p":7.5,"r":1.63},{"p":10.5,"r":1.59},{"p":15,"r":1.62},
{"p":0.55,"r":1.4},{"p":0.65,"r":1.38},{"p":0.8,"r":1.43},{"p":1.1,"r":1.39},{"p":1.6,"r":1.42},{"p":2.4,"r":1.37},{"p":3.5,"r":1.44},{"p":5,"r":1.4},{"p":7,"r":1.38},{"p":10,"r":1.43},
{"p":0.6,"r":1.2},{"p":0.8,"r":1.18},{"p":1.15,"r":1.22},{"p":1.8,"r":1.19},{"p":2.7,"r":1.21},{"p":4,"r":1.17},{"p":6,"r":1.23},
{"p":0.9,"r":1},{"p":1.4,"r":0.98},{"p":2.2,"r":1.02},{"p":3.3,"r":0.99},{"p":1,"r":0.85},{"p":1.7,"r":0.87},{"p":2.6,"r":0.84},{"p":0.32,"r":0.78}
],
"kcbp":[
{"p":48.7,"r":3.06},{"p":65.7,"r":4.39},{"p":103.7,"r":4.39},{"p":169,"r":3.8},{"p":129,"r":8.07},{"p":137.6,"r":6.23},{"p":184.5,"r":7.09},{"p":224,"r":8.41},{"p":284,"r":8.41},{"p":239,"r":6.23},{"p":303,"r":4.65},{"p":1097,"r":11.9}
],
"tcbp":[{"p":161,"r":11.5},{"p":90,"r":7.09}],
"solar":[{"p":87.97,"r":0.383},{"p":224.7,"r":0.949},{"p":365.25,"r":1},{"p":687,"r":0.532},{"p":4333,"r":11.21}]
},
"layer":[
{"data":{"name":"kepler"},
 "mark":{"type":"point","filled":true,"opacity":1,"size":660,"strokeWidth":1.5},
 "encoding":{
  "x":{"field":"p","type":"quantitative","scale":{"type":"log","domain":[0.25,5000],"nice":false},
   "axis":{"orient":"bottom","title":"Planet period (days)","values":[0.3,0.4,0.5,0.6,0.7,0.8,0.9,1,2,3,4,5,6,7,8,9,10,20,30,40,50,60,70,80,90,100,200,300,400,500,600,700,800,900,1000,2000,3000,4000],
    "labelExpr":"indexof([1,10,100,1000], datum.value) >= 0 ? datum.value + '' : ''",
    "tickSize":{"condition":{"test":"indexof([1,10,100,1000], datum.value) >= 0","value":-18},"value":-11},
    "labelPadding":97,"labelBaseline":"alphabetic","titleBaseline":"alphabetic","titleY":161}},
  "y":{"field":"r","type":"quantitative","scale":{"type":"log","domain":[0.25,28],"nice":false},
   "axis":{"orient":"left","title":"Planet radius (Earth radii)","values":[0.3,0.4,0.5,0.6,0.7,0.8,0.9,1,2,3,4,5,6,7,8,9,10,20],
    "labelExpr":"indexof([0.5,1,2,5,10,20], datum.value) >= 0 ? datum.value + '' : ''",
    "tickSize":{"condition":{"test":"indexof([0.5,1,2,5,10,20], datum.value) >= 0","value":-18},"value":-11},
    "labelPadding":38,"titleBaseline":"alphabetic","titleX":-134}},
  "shape":{"datum":"Kepler","type":"nominal","scale":{"domain":["Kepler","TESS","Kepler CBPs","TESS CBP","Solar System"],"range":["circle","M0,-0.72L1,0.72L-1,0.72Z","square","triangle-down","M0,-1L0.78,0L0,1L-0.78,0Z"]},
   "legend":{"title":null,"orient":"none","legendX":1324,"legendY":399,
    "symbolSize":{"expr":"datum.value === 'Kepler' ? 110 : datum.value === 'TESS' ? 380 : datum.value === 'Kepler CBPs' ? 1800 : datum.value === 'TESS CBP' ? 3100 : 2300"},
    "symbolStrokeWidth":{"expr":"datum.value === 'Kepler' || datum.value === 'TESS' ? 1.5 : datum.value === 'Solar System' ? 5 : 7"}}},
  "fill":{"datum":"Kepler","type":"nominal","scale":{"domain":["Kepler","TESS","Kepler CBPs","TESS CBP","Solar System"],"range":["rgba(60,220,90,0.4)","rgba(255,150,50,0.38)","#8fd3f8","#e6b5f7","#f28a8a"]},
   "legend":{"title":null,"orient":"none","legendX":1324,"legendY":399,
    "symbolSize":{"expr":"datum.value === 'Kepler' ? 110 : datum.value === 'TESS' ? 380 : datum.value === 'Kepler CBPs' ? 1800 : datum.value === 'TESS CBP' ? 3100 : 2300"},
    "symbolStrokeWidth":{"expr":"datum.value === 'Kepler' || datum.value === 'TESS' ? 1.5 : datum.value === 'Solar System' ? 5 : 7"}}},
  "stroke":{"datum":"Kepler","type":"nominal","scale":{"domain":["Kepler","TESS","Kepler CBPs","TESS CBP","Solar System"],"range":["rgba(30,170,60,0.6)","rgba(245,150,60,0.5)","#1020dc","#b01ef5","#e01818"]},
   "legend":{"title":null,"orient":"none","legendX":1324,"legendY":399,
    "symbolSize":{"expr":"datum.value === 'Kepler' ? 110 : datum.value === 'TESS' ? 380 : datum.value === 'Kepler CBPs' ? 1800 : datum.value === 'TESS CBP' ? 3100 : 2300"},
    "symbolStrokeWidth":{"expr":"datum.value === 'Kepler' || datum.value === 'TESS' ? 1.5 : datum.value === 'Solar System' ? 5 : 7"}}}
 }},
{"data":{"name":"tess"},
 "mark":{"type":"point","filled":true,"opacity":1,"size":1520,"strokeWidth":1.5},
 "encoding":{
  "x":{"field":"p","type":"quantitative","axis":null},
  "y":{"field":"r","type":"quantitative","axis":null},
  "shape":{"datum":"TESS","type":"nominal"},
  "fill":{"datum":"TESS","type":"nominal"},
  "stroke":{"datum":"TESS","type":"nominal"}
 }},
{"data":{"name":"kcbp"},
 "mark":{"type":"point","filled":true,"opacity":1,"size":1700,"strokeWidth":7,"strokeJoin":"round"},
 "encoding":{
  "x":{"field":"p","type":"quantitative","axis":null},
  "y":{"field":"r","type":"quantitative","axis":null},
  "shape":{"datum":"Kepler CBPs","type":"nominal"},
  "fill":{"datum":"Kepler CBPs","type":"nominal"},
  "stroke":{"datum":"Kepler CBPs","type":"nominal"}
 }},
{"data":{"name":"tcbp"},
 "mark":{"type":"point","filled":true,"opacity":1,"size":3360,"strokeWidth":8,"strokeJoin":"round"},
 "encoding":{
  "x":{"field":"p","type":"quantitative","axis":null},
  "y":{"field":"r","type":"quantitative","axis":null},
  "shape":{"datum":"TESS CBP","type":"nominal"},
  "fill":{"datum":"TESS CBP","type":"nominal"},
  "stroke":{"datum":"TESS CBP","type":"nominal"}
 }},
{"data":{"name":"solar"},
 "mark":{"type":"point","filled":true,"opacity":1,"size":2200,"strokeWidth":5},
 "encoding":{
  "x":{"field":"p","type":"quantitative",
   "axis":{"orient":"top","title":null,"labels":false,"values":[0.3,0.4,0.5,0.6,0.7,0.8,0.9,1,2,3,4,5,6,7,8,9,10,20,30,40,50,60,70,80,90,100,200,300,400,500,600,700,800,900,1000,2000,3000,4000],
    "tickSize":{"condition":{"test":"indexof([1,10,100,1000], datum.value) >= 0","value":-18},"value":-11}}},
  "y":{"field":"r","type":"quantitative",
   "axis":{"orient":"right","title":null,"labels":false,"values":[0.3,0.4,0.5,0.6,0.7,0.8,0.9,1,2,3,4,5,6,7,8,9,10,20],
    "tickSize":{"condition":{"test":"indexof([0.5,1,2,5,10,20], datum.value) >= 0","value":-18},"value":-11}}},
  "shape":{"datum":"Solar System","type":"nominal"},
  "fill":{"datum":"Solar System","type":"nominal"},
  "stroke":{"datum":"Solar System","type":"nominal"}
 }}
],
"resolve":{"axis":{"x":"independent","y":"independent"}}
}
